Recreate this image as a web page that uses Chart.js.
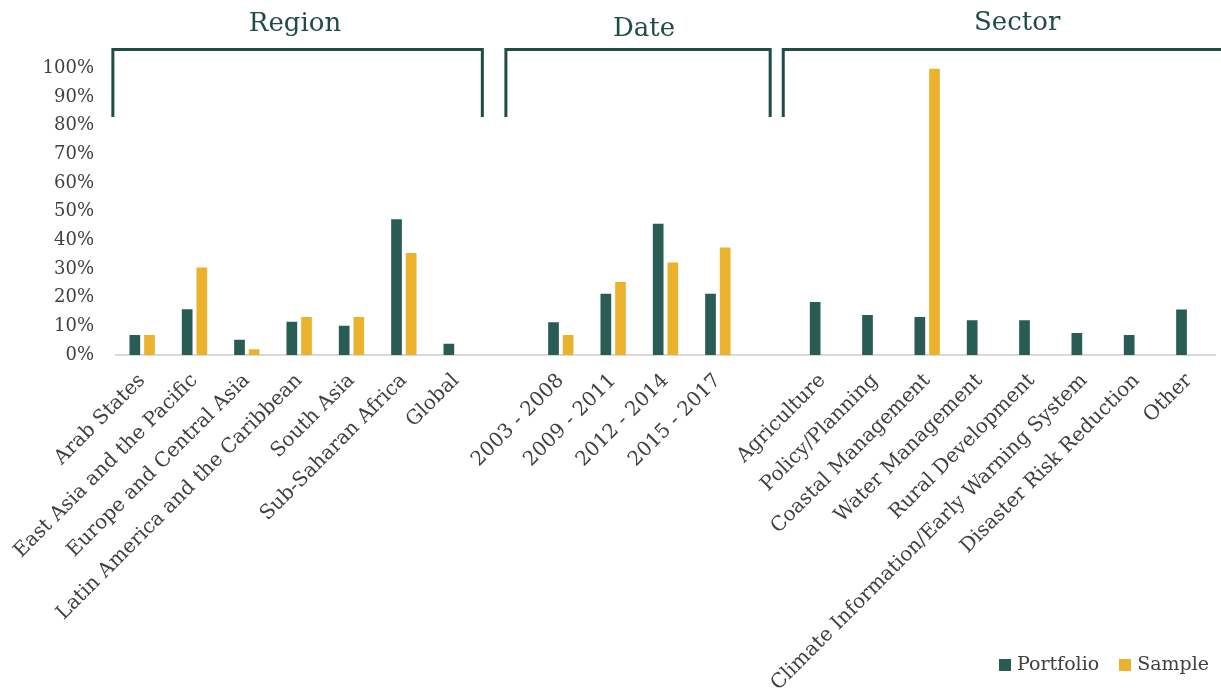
<!DOCTYPE html>
<html>
<head>
<meta charset="utf-8">
<script src="https://cdn.jsdelivr.net/npm/chart.js@4"></script>
<style>
  html, body { margin: 0; padding: 0; background: #fff; }
  #wrap { position: relative; width: 1221px; height: 695px; }
  #legend {
    position: absolute; right: 12px; top: 652px;
    font: 19px "DejaVu Serif", serif; color: #404040;
    display: flex; gap: 20px; align-items: center;
  }
  #legend span.sw { display: inline-block; width: 12px; height: 12px; margin-right: 6px; vertical-align: -1px; }
</style>
</head>
<body>
<div id="wrap">
  <canvas id="chart" width="1221" height="695"></canvas>
  <div id="legend"></div>
</div>
<script>
// ── Categories ────────────────────────────────────────────
const REGIONS = ['Arab States', 'East Asia and the Pacific', 'Europe and Central Asia',
  'Latin America and the Caribbean', 'South Asia', 'Sub-Saharan Africa', 'Global'];
const PERIODS = ['2003 - 2008', '2009 - 2011', '2012 - 2014', '2015 - 2017'];
const SECTORS = ['Agriculture', 'Policy/Planning', 'Coastal Management', 'Water Management',
  'Rural Development', 'Climate Information/Early Warning System', 'Disaster Risk Reduction', 'Other'];

// ── Shares (%) ────────────────────────────────────────────
const PORTFOLIO_REGION = [7, 16, 5.3, 11.6, 10.2, 47.4, 3.9];
const SAMPLE_REGION    = [7, 30.5, 2, 13.3, 13.3, 35.6, null];
const PORTFOLIO_PERIOD = [11.4, 21.4, 45.8, 21.4];
const SAMPLE_PERIOD    = [7, 25.5, 32.3, 37.5];
const PORTFOLIO_SECTOR = [18.5, 14, 13.3, 12.1, 12.1, 7.7, 7, 15.9];
const SAMPLE_SECTOR    = [null, null, 100, null, null, null, null, null];

const Y_TICKS = [0, 10, 20, 30, 40, 50, 60, 70, 80, 90, 100];
const GROUP_TITLES = ['Region', 'Date', 'Sector'];

const COLORS = {
  portfolio: '#295c54',
  sample:    '#ebb22e',
  bracket:   '#1f4d45',
  text:      '#404040',
};
const FONT = '"DejaVu Serif", serif';

// one blank slot between groups
const labels    = [...REGIONS, '', ...PERIODS, '', ...SECTORS];
const portfolio = [...PORTFOLIO_REGION, null, ...PORTFOLIO_PERIOD, null, ...PORTFOLIO_SECTOR];
const sample    = [...SAMPLE_REGION, null, ...SAMPLE_PERIOD, null, ...SAMPLE_SECTOR];

// ── Group brackets + titles above the plot ────────────────
// edges given in category units on the x scale
const bracketPlugin = {
  id: 'groupBrackets',
  afterDraw(chart) {
    const { ctx, scales: { x } } = chart;
    const step = x.getPixelForValue(1) - x.getPixelForValue(0);
    const px = v => x.getPixelForValue(0) + v * step;
    const spans = [[-0.56, 6.5], [6.95, 12.0], [12.25, 21.3]];
    const titleAt = [[2.92, 24], [9.59, 29], [16.72, 23]];
    const top = 49.5, bottom = 117;
    ctx.save();
    ctx.strokeStyle = COLORS.bracket;
    ctx.lineWidth = 3;
    ctx.lineJoin = 'miter';
    spans.forEach(([a, b]) => {
      ctx.beginPath();
      ctx.moveTo(px(a), bottom);
      ctx.lineTo(px(a), top);
      ctx.lineTo(px(b), top);
      ctx.lineTo(px(b), bottom);
      ctx.stroke();
    });
    ctx.fillStyle = COLORS.bracket;
    ctx.font = '26px ' + FONT;
    ctx.textAlign = 'center';
    ctx.textBaseline = 'middle';
    GROUP_TITLES.forEach((t, i) => ctx.fillText(t, px(titleAt[i][0]), titleAt[i][1]));
    ctx.restore();
  },
};

new Chart(document.getElementById('chart'), {
  type: 'bar',
  data: {
    labels,
    datasets: [
      { label: 'Portfolio', data: portfolio, backgroundColor: COLORS.portfolio },
      { label: 'Sample',    data: sample,    backgroundColor: COLORS.sample },
    ],
  },
  options: {
    responsive: false,
    animation: false,
    categoryPercentage: 0.56,
    barPercentage: 0.73,
    layout: { padding: { top: 68.5, left: 0, right: 6, bottom: 0 } },
    plugins: { legend: { display: false }, tooltip: { enabled: false } },
    scales: {
      x: {
        grid: { display: false, drawTicks: false },
        border: { color: '#d9d9d9', width: 2 },
        ticks: {
          autoSkip: false, maxRotation: 45, minRotation: 45,
          padding: 14, color: COLORS.text, font: { family: FONT, size: 20 },
        },
        afterFit(s) { s.height = 340; },
      },
      y: {
        min: 0, max: 100,
        grid: { display: false, drawTicks: false },
        border: { display: false },
        afterBuildTicks(s) { s.ticks = Y_TICKS.map(v => ({ value: v })); },
        ticks: {
          padding: 22, color: COLORS.text, font: { family: FONT, size: 18 },
          callback: v => v + '%',
        },
        afterFit(s) { s.width = 116; },
      },
    },
  },
  plugins: [bracketPlugin],
});

// ── HTML legend ───────────────────────────────────────────
document.getElementById('legend').innerHTML = [
  ['Portfolio', COLORS.portfolio], ['Sample', COLORS.sample],
].map(([name, c]) => `<div><span class="sw" style="background:${c}"></span>${name}</div>`).join('');
</script>
</body>
</html>
